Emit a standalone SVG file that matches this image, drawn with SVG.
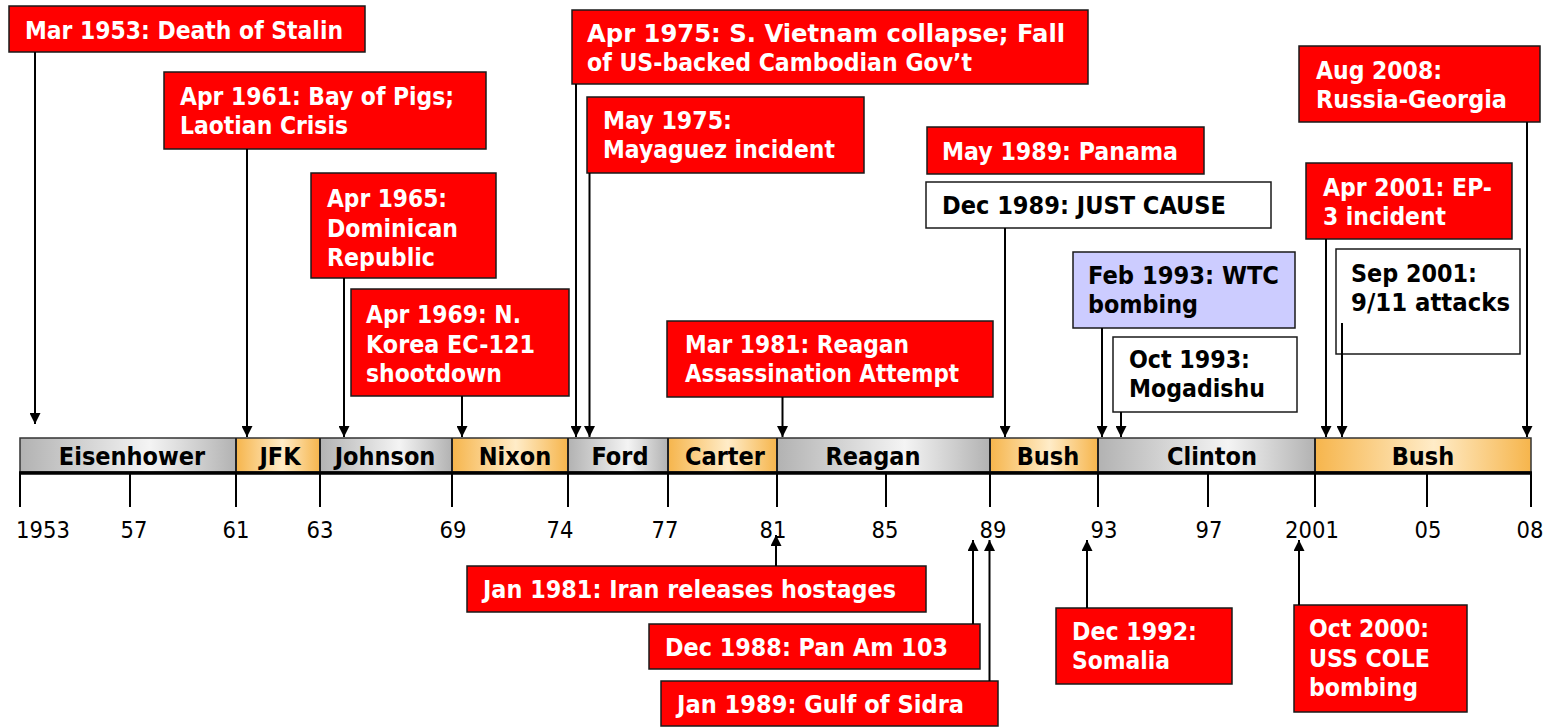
<svg xmlns="http://www.w3.org/2000/svg" width="1550" height="727" viewBox="0 0 1550 727">
<defs>
<style>
.b{font-family:"DejaVu Sans Condensed","DejaVu Sans",sans-serif;font-stretch:condensed;font-weight:bold;font-size:24.5px}
.w{fill:#ffffff}
.k{fill:#000000}
.red{fill:#ff0000;stroke:#1a1a1a;stroke-width:1.5}
.wht{fill:#ffffff;stroke:#1a1a1a;stroke-width:1.5}
.open{fill:none;stroke:#1a1a1a;stroke-width:1.5}
.lav{fill:#ccccff;stroke:#1a1a1a;stroke-width:1.5}
.ar{stroke:#000;stroke-width:2;fill:none;marker-end:url(#ah)}
.tk{stroke:#000;stroke-width:2}
.yr{font-family:"DejaVu Sans Condensed","DejaVu Sans",sans-serif;font-stretch:condensed;font-size:23.5px;fill:#000;text-anchor:middle}
.seg{font-family:"DejaVu Sans Condensed","DejaVu Sans",sans-serif;font-stretch:condensed;font-weight:bold;font-size:25px;fill:#000;text-anchor:middle}
.div{stroke:#222;stroke-width:2}
</style>
<marker id="ah" markerUnits="userSpaceOnUse" markerWidth="11" markerHeight="11" refX="11" refY="5.5" orient="auto">
<path d="M0,0 L11,5.5 L0,11 z" fill="#000"/>
</marker>
<linearGradient id="gG" x1="0" y1="0" x2="1" y2="0">
<stop offset="0" stop-color="#b2b2b2"/>
<stop offset="0.6" stop-color="#f4f4f4"/>
<stop offset="1" stop-color="#b2b2b2"/>
</linearGradient>
<linearGradient id="gO" x1="0" y1="0" x2="1" y2="0">
<stop offset="0" stop-color="#f6b54c"/>
<stop offset="0.55" stop-color="#ffecc8"/>
<stop offset="1" stop-color="#f6b54c"/>
</linearGradient>
</defs>

<g id="timeline">
<rect x="20" y="438" width="216" height="34" fill="url(#gG)"/>
<rect x="236" y="438" width="84" height="34" fill="url(#gO)"/>
<rect x="320" y="438" width="132" height="34" fill="url(#gG)"/>
<rect x="452" y="438" width="116" height="34" fill="url(#gO)"/>
<rect x="568" y="438" width="100" height="34" fill="url(#gG)"/>
<rect x="668" y="438" width="109" height="34" fill="url(#gO)"/>
<rect x="777" y="438" width="213" height="34" fill="url(#gG)"/>
<rect x="990" y="438" width="108" height="34" fill="url(#gO)"/>
<rect x="1098" y="438" width="217" height="34" fill="url(#gG)"/>
<rect x="1315" y="438" width="216" height="34" fill="url(#gO)"/>
<rect x="20" y="438" width="1511" height="34" fill="none" stroke="#333" stroke-width="1.5"/>
<g class="div">
<line x1="236" y1="438" x2="236" y2="472"/><line x1="320" y1="438" x2="320" y2="472"/>
<line x1="452" y1="438" x2="452" y2="472"/><line x1="568" y1="438" x2="568" y2="472"/>
<line x1="668" y1="438" x2="668" y2="472"/><line x1="777" y1="438" x2="777" y2="472"/>
<line x1="990" y1="438" x2="990" y2="472"/><line x1="1098" y1="438" x2="1098" y2="472"/>
<line x1="1315" y1="438" x2="1315" y2="472"/>
</g>
<line x1="19" y1="473" x2="1532" y2="473" stroke="#000" stroke-width="3.5"/>
<g class="tk">
<line x1="20" y1="473" x2="20" y2="507"/><line x1="130" y1="473" x2="130" y2="507"/>
<line x1="236" y1="473" x2="236" y2="507"/><line x1="320" y1="473" x2="320" y2="507"/>
<line x1="452" y1="473" x2="452" y2="507"/><line x1="568" y1="473" x2="568" y2="507"/>
<line x1="668" y1="473" x2="668" y2="507"/><line x1="777" y1="473" x2="777" y2="507"/>
<line x1="886" y1="473" x2="886" y2="507"/><line x1="990" y1="473" x2="990" y2="507"/>
<line x1="1098" y1="473" x2="1098" y2="507"/><line x1="1208" y1="473" x2="1208" y2="507"/>
<line x1="1315" y1="473" x2="1315" y2="507"/><line x1="1427" y1="473" x2="1427" y2="507"/>
<line x1="1531" y1="473" x2="1531" y2="507"/>
</g>
<text class="seg" x="132" y="465">Eisenhower</text>
<text class="seg" x="280" y="465">JFK</text>
<text class="seg" x="385" y="465">Johnson</text>
<text class="seg" x="515" y="465">Nixon</text>
<text class="seg" x="620" y="465">Ford</text>
<text class="seg" x="725" y="465">Carter</text>
<text class="seg" x="873" y="465">Reagan</text>
<text class="seg" x="1048" y="465">Bush</text>
<text class="seg" x="1212" y="465">Clinton</text>
<text class="seg" x="1423" y="465">Bush</text>
<text class="yr" x="43" y="538">1953</text>
<text class="yr" x="134" y="538">57</text>
<text class="yr" x="236" y="538">61</text>
<text class="yr" x="320" y="538">63</text>
<text class="yr" x="453" y="538">69</text>
<text class="yr" x="560" y="538">74</text>
<text class="yr" x="665" y="538">77</text>
<text class="yr" x="773" y="538">81</text>
<text class="yr" x="885" y="538">85</text>
<text class="yr" x="993" y="538">89</text>
<text class="yr" x="1104" y="538">93</text>
<text class="yr" x="1209" y="538">97</text>
<text class="yr" x="1312" y="538">2001</text>
<text class="yr" x="1428" y="538">05</text>
<text class="yr" x="1530" y="538">08</text>
</g>

<g id="ev-stalin"><rect class="red" x="9" y="6" width="356" height="46"/><text class="b w" x="25" y="39" textLength="318" lengthAdjust="spacingAndGlyphs">Mar 1953: Death of Stalin</text></g>
<g id="ev-bayofpigs"><rect class="red" x="164" y="72" width="322" height="77"/><text class="b w" x="180" y="105" textLength="274" lengthAdjust="spacingAndGlyphs">Apr 1961: Bay of Pigs;</text><text class="b w" x="180" y="134" textLength="168" lengthAdjust="spacingAndGlyphs">Laotian Crisis</text></g>
<g id="ev-dominican"><rect class="red" x="311" y="173" width="185" height="105"/><text class="b w" x="327" y="206.5" textLength="120" lengthAdjust="spacingAndGlyphs">Apr 1965:</text><text class="b w" x="327" y="236.5" textLength="131" lengthAdjust="spacingAndGlyphs">Dominican</text><text class="b w" x="327" y="266" textLength="108" lengthAdjust="spacingAndGlyphs">Republic</text></g>
<g id="ev-korea"><rect class="red" x="351" y="289" width="218" height="107"/><text class="b w" x="366" y="323" textLength="155" lengthAdjust="spacingAndGlyphs">Apr 1969: N.</text><text class="b w" x="366" y="352.5" textLength="169" lengthAdjust="spacingAndGlyphs">Korea EC-121</text><text class="b w" x="366" y="381.5" textLength="136" lengthAdjust="spacingAndGlyphs">shootdown</text></g>
<g id="ev-vietnam"><rect class="red" x="572" y="10" width="516" height="74"/><text class="b w" x="587" y="42" textLength="478" lengthAdjust="spacingAndGlyphs">Apr 1975: S. Vietnam collapse; Fall</text><text class="b w" x="587" y="71" textLength="385" lengthAdjust="spacingAndGlyphs">of US-backed Cambodian Gov’t</text></g>
<g id="ev-mayaguez"><rect class="red" x="587" y="97" width="277" height="76"/><text class="b w" x="603" y="128.5" textLength="129" lengthAdjust="spacingAndGlyphs">May 1975:</text><text class="b w" x="603" y="157.5" textLength="232" lengthAdjust="spacingAndGlyphs">Mayaguez incident</text></g>
<g id="ev-reagan"><rect class="red" x="667" y="321" width="326" height="76"/><text class="b w" x="685" y="353" textLength="224" lengthAdjust="spacingAndGlyphs">Mar 1981: Reagan</text><text class="b w" x="685" y="382" textLength="274" lengthAdjust="spacingAndGlyphs">Assassination Attempt</text></g>
<g id="ev-panama"><rect class="red" x="927" y="127" width="277" height="47"/><text class="b w" x="942" y="160" textLength="236" lengthAdjust="spacingAndGlyphs">May 1989: Panama</text></g>
<g id="ev-justcause"><rect class="wht" x="926" y="182" width="345" height="46"/><text class="b k" x="942" y="214" textLength="284" lengthAdjust="spacingAndGlyphs">Dec 1989: JUST CAUSE</text></g>
<g id="ev-wtc"><rect class="lav" x="1073" y="252" width="222" height="76"/><text class="b k" x="1088" y="284" textLength="191" lengthAdjust="spacingAndGlyphs">Feb 1993: WTC</text><text class="b k" x="1088" y="313" textLength="110" lengthAdjust="spacingAndGlyphs">bombing</text></g>
<g id="ev-mogadishu"><rect class="wht" x="1113" y="337" width="184" height="75"/><text class="b k" x="1129" y="368" textLength="121" lengthAdjust="spacingAndGlyphs">Oct 1993:</text><text class="b k" x="1129" y="397" textLength="136" lengthAdjust="spacingAndGlyphs">Mogadishu</text></g>
<g id="ev-ep3"><rect class="red" x="1306" y="163" width="206" height="76"/><text class="b w" x="1323" y="196" textLength="169" lengthAdjust="spacingAndGlyphs">Apr 2001: EP-</text><text class="b w" x="1323" y="225" textLength="123" lengthAdjust="spacingAndGlyphs">3 incident</text></g>
<g id="ev-911"><rect class="open" x="1336" y="249" width="184" height="105"/><text class="b k" x="1351" y="282" textLength="126" lengthAdjust="spacingAndGlyphs">Sep 2001:</text><text class="b k" x="1351" y="311" textLength="159" lengthAdjust="spacingAndGlyphs">9/11 attacks</text></g>
<g id="ev-georgia"><rect class="red" x="1299" y="46" width="241" height="76"/><text class="b w" x="1316" y="79" textLength="126" lengthAdjust="spacingAndGlyphs">Aug 2008:</text><text class="b w" x="1316" y="108" textLength="191" lengthAdjust="spacingAndGlyphs">Russia-Georgia</text></g>
<g id="ev-iran"><rect class="red" x="467" y="566" width="459" height="46"/><text class="b w" x="483" y="598" textLength="413" lengthAdjust="spacingAndGlyphs">Jan 1981: Iran releases hostages</text></g>
<g id="ev-panam"><rect class="red" x="649" y="624" width="331" height="45"/><text class="b w" x="665" y="656" textLength="283" lengthAdjust="spacingAndGlyphs">Dec 1988: Pan Am 103</text></g>
<g id="ev-sidra"><rect class="red" x="661" y="681" width="337" height="45"/><text class="b w" x="677" y="713" textLength="287" lengthAdjust="spacingAndGlyphs">Jan 1989: Gulf of Sidra</text></g>
<g id="ev-somalia"><rect class="red" x="1056" y="608" width="176" height="76"/><text class="b w" x="1072" y="640" textLength="125" lengthAdjust="spacingAndGlyphs">Dec 1992:</text><text class="b w" x="1072" y="668.5" textLength="98" lengthAdjust="spacingAndGlyphs">Somalia</text></g>
<g id="ev-cole"><rect class="red" x="1294" y="605" width="173" height="107"/><text class="b w" x="1309" y="637" textLength="120" lengthAdjust="spacingAndGlyphs">Oct 2000:</text><text class="b w" x="1309" y="666.5" textLength="121" lengthAdjust="spacingAndGlyphs">USS COLE</text><text class="b w" x="1309" y="696" textLength="109" lengthAdjust="spacingAndGlyphs">bombing</text></g>

<g id="connectors">
<line class="ar" x1="35" y1="52" x2="35" y2="424"/>
<line class="ar" x1="247" y1="149" x2="247" y2="437"/>
<line class="ar" x1="344" y1="278" x2="344" y2="437"/>
<line class="ar" x1="462" y1="396" x2="462" y2="437"/>
<line class="ar" x1="576" y1="84" x2="576" y2="437"/>
<line class="ar" x1="589.5" y1="173" x2="589.5" y2="437"/>
<line class="ar" x1="782.5" y1="397" x2="782.5" y2="437"/>
<line class="ar" x1="1005" y1="228" x2="1005" y2="437"/>
<line class="ar" x1="1102" y1="328" x2="1102" y2="437"/>
<line class="ar" x1="1121" y1="412" x2="1121" y2="437"/>
<line class="ar" x1="1326" y1="239" x2="1326" y2="437"/>
<line class="ar" x1="1342" y1="323" x2="1342" y2="437"/>
<line class="ar" x1="1527" y1="122" x2="1527" y2="437"/>
<line class="ar" x1="776" y1="566" x2="776" y2="535"/>
<line class="ar" x1="973" y1="624" x2="973" y2="540"/>
<line class="ar" x1="989.5" y1="681" x2="989.5" y2="540"/>
<line class="ar" x1="1087" y1="608" x2="1087" y2="540"/>
<line class="ar" x1="1299" y1="605" x2="1299" y2="540"/>
</g>
</svg>
